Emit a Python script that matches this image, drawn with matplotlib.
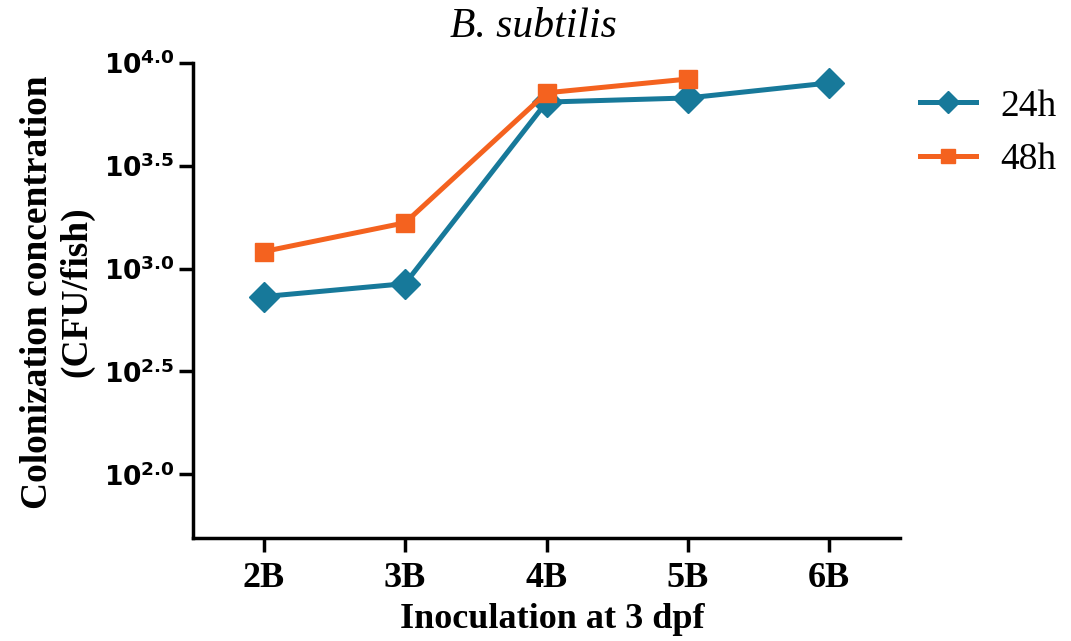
import matplotlib.pyplot as plt
import numpy as np

# values (log10 CFU/fish)
categories = ["2B", "3B", "4B", "5B", "6B"]
h24 = [2.864, 2.927, 3.81, 3.83, 3.903]
h48 = [3.083, 3.223, 3.855, 3.922]
h48_err = [0.0, 0.0, 0.03, 0.02]
ytick_vals = [2.0, 2.5, 3.0, 3.5, 4.0]
ytick_labels = ["$10^{2.0}$", "$10^{2.5}$", "$10^{3.0}$", "$10^{3.5}$", "$10^{4.0}$"]

plt.rcParams["mathtext.fontset"] = "custom"
plt.rcParams["mathtext.rm"] = "DejaVu Sans:bold"
plt.rcParams["mathtext.it"] = "DejaVu Sans:bold"
plt.rcParams["mathtext.bf"] = "DejaVu Sans:bold"

teal = "#17799a"
orange = "#f4621f"
serif = "Liberation Serif"

W, H = 1071, 641
fig = plt.figure(figsize=(W / 100, H / 100), dpi=100)
ax = fig.add_axes([193 / W, 1 - 538 / H, (900 - 193) / W, (538 - 63) / H])

x = np.arange(len(categories))
ax.plot(x, h24, color=teal, lw=3.6, marker="D", ms=15, label="24h", zorder=3)
x48 = x[:len(h48)]
ax.errorbar(x48, h48, yerr=h48_err, fmt="none", ecolor=orange, elinewidth=2,
            capsize=6, capthick=2, zorder=4)
ax.plot(x48, h48, color=orange, lw=3.6, marker="s", ms=13, label="48h", zorder=4)

ax.set_xlim(-0.5, 4.5)
ax.set_ylim(1.69, 4.0)
ax.set_xticks(x)
ax.set_xticklabels(categories, fontfamily=serif, fontweight="bold", fontsize=26)
ax.set_yticks(ytick_vals)
ax.set_yticklabels(ytick_labels, fontsize=19)

for s in ["top", "right"]:
    ax.spines[s].set_visible(False)
for s in ["left", "bottom"]:
    ax.spines[s].set_linewidth(2.5)
ax.tick_params(width=2.5, length=10)
ax.tick_params(axis="x", pad=7)
ax.tick_params(axis="y", pad=3)

fig.text(552 / W, 1 - 620 / H, "Inoculation at 3 dpf", fontfamily=serif,
         fontweight="bold", fontsize=26, ha="center", va="center")
fig.text(57 / W, 1 - 292 / H, "Colonization concentration\n(CFU/fish)", fontfamily=serif,
         fontweight="bold", fontsize=27, ha="center", va="center", rotation=90,
         linespacing=1.15)
fig.text(533 / W, 1 - 27 / H, "B. subtilis", fontfamily=serif, style="italic",
         fontsize=30, ha="center", va="center")

leg = ax.legend(loc="upper left", bbox_to_anchor=(920 / W, 1 - 89 / H),
                bbox_transform=fig.transFigure, frameon=False, borderpad=0,
                borderaxespad=0, prop={"family": serif, "size": 27},
                handlelength=1.5, handletextpad=0.65, labelspacing=0.5,
                markerscale=0.75)

fig.savefig("out.png", dpi=100)
